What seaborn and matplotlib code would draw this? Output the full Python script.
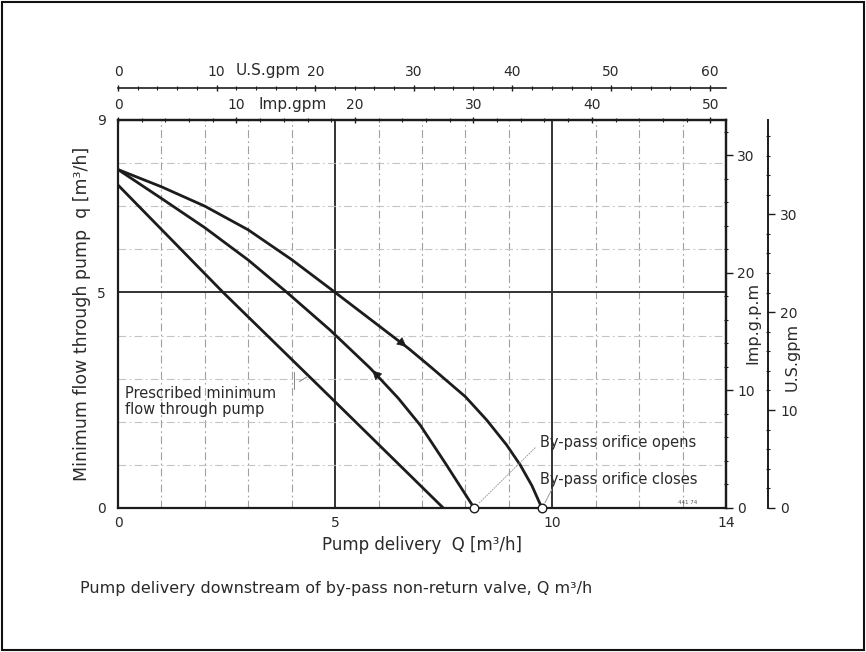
import numpy as np
import pandas as pd
import matplotlib
matplotlib.use("Agg")
import matplotlib.pyplot as plt
from matplotlib.ticker import MultipleLocator
import seaborn as sns

# ---------------- data ----------------
# upper curve (Q increasing, by-pass closes at ~9.76 m3/h)
q_upper_Q = [0, 1, 2, 3, 4, 5, 5.65, 6.69, 7.19, 8.0, 8.49, 8.95, 9.26, 9.53, 9.76]
q_upper_q = [7.85, 7.45, 7.0, 6.45, 5.76, 5.0, 4.5, 3.70, 3.28, 2.58, 2.04, 1.46, 1.0, 0.52, 0.0]
# middle curve (Q decreasing, by-pass opens at ~8.2 m3/h)
q_mid_Q = [0, 1, 2, 3, 3.89, 4.88, 5.81, 6.45, 6.96, 7.53, 8.2]
q_mid_q = [7.85, 7.18, 6.5, 5.75, 5.0, 4.13, 3.24, 2.55, 1.92, 1.05, 0.0]
# prescribed minimum flow through pump (straight line)
q_min_Q = [0, 2.42, 4.88, 7.49]
q_min_q = [7.49, 5.0, 2.58, 0.0]
# by-pass orifice points on the Q axis
orifice_Q = [8.2, 9.76]
orifice_q = [0.0, 0.0]

x_ticks = [0, 5, 10, 14]
y_ticks = [0, 5, 9]
grid_Q = list(range(1, 14))
grid_q = list(range(1, 9))
solid_Q = [5, 10]
solid_q = [5]
imp_ticks_top = [0, 10, 20, 30, 40, 50]
us_ticks_top = [0, 10, 20, 30, 40, 50, 60]
imp_ticks_right = [0, 10, 20, 30]
us_ticks_right = [0, 10, 20, 30]

M3H_PER_IMPGPM = 0.2728
M3H_PER_USGPM = 0.2271

# ---------------- style ----------------
sns.set_style("white")
plt.rcParams["font.family"] = ["DejaVu Sans"]
INK = "#1c1c1c"
TXT = "#2a2a2a"

fig = plt.figure(figsize=(8.66, 6.52), dpi=100)
fig.patch.set_facecolor("white")
ax = fig.add_axes([0.1363, 0.2209, 0.702, 0.5951])

df = pd.concat([
    pd.DataFrame({"Q": q_upper_Q, "q": q_upper_q, "curve": "upper"}),
    pd.DataFrame({"Q": q_mid_Q, "q": q_mid_q, "curve": "middle"}),
    pd.DataFrame({"Q": q_min_Q, "q": q_min_q, "curve": "minimum"}),
])

# grid
for g in grid_Q:
    if g in solid_Q:
        ax.axvline(g, color="#333333", lw=1.4, zorder=1)
    else:
        ax.axvline(g, color="#a0a0a0", lw=0.8, ls=(0, (7, 3, 1.5, 3)), zorder=1)
for g in grid_q:
    if g in solid_q:
        ax.axhline(g, color="#333333", lw=1.4, zorder=1)
    else:
        ax.axhline(g, color="#c4c4c4", lw=0.8, ls=(0, (7, 3, 1.5, 3)), zorder=1)

sns.lineplot(data=df, x="Q", y="q", units="curve", estimator=None, sort=False,
             color=INK, lw=2.0, ax=ax, zorder=3)

sns.scatterplot(x=orifice_Q, y=orifice_q, ax=ax, marker="o", s=38,
                facecolor="white", edgecolor=INK, linewidth=1.0, zorder=5,
                clip_on=False)

# arrows on the curves
ax.annotate("", xy=(6.69, 3.70), xytext=(6.40, 3.94),
            arrowprops=dict(arrowstyle="-|>", color=INK, lw=0.5, mutation_scale=15), zorder=4)
ax.annotate("", xy=(5.81, 3.24), xytext=(6.11, 2.93),
            arrowprops=dict(arrowstyle="-|>", color=INK, lw=0.5, mutation_scale=15), zorder=4)

ax.set_xlim(0, 14)
ax.set_ylim(0, 9)

# annotations
ax.text(0.16, 2.47, "Prescribed minimum\nflow through pump", fontsize=10.5,
        color=TXT, ha="left", va="center", linespacing=1.05)
ax.annotate("", xy=(4.42, 3.08), xytext=(4.12, 2.9),
            arrowprops=dict(arrowstyle="-", color="#888888", lw=0.7))
ax.plot([4.05, 4.05], [2.75, 3.15], color="#888888", lw=0.7)

ax.text(9.72, 1.51, "By-pass orifice opens", fontsize=10.5, color=TXT,
        ha="left", va="center")
ax.text(9.72, 0.65, "By-pass orifice closes", fontsize=10.5, color=TXT,
        ha="left", va="center")
ax.annotate("", xy=(8.25, 0.05), xytext=(9.65, 1.44),
            arrowprops=dict(arrowstyle="-", color="#999999", lw=0.7, ls=":"))
ax.annotate("", xy=(9.8, 0.06), xytext=(10.02, 0.49),
            arrowprops=dict(arrowstyle="-", color="#999999", lw=0.7))
ax.text(12.9, 0.12, "441 74", fontsize=4, color="#555555", ha="left", va="center")

# main axes
for s in ax.spines.values():
    s.set_color(INK)
    s.set_linewidth(1.6)
ax.set_xticks(x_ticks)
ax.set_yticks(y_ticks)
ax.xaxis.set_minor_locator(MultipleLocator(1))
ax.tick_params(axis="x", which="major", direction="in", length=4, width=1,
               labelsize=10, pad=6, colors=INK, labelcolor=TXT)
ax.tick_params(axis="x", which="minor", direction="in", length=3, width=0.8, colors=INK)
ax.tick_params(axis="y", which="major", direction="in", length=3, width=1,
               labelsize=10, pad=9, colors=INK, labelcolor=TXT)
ax.set_xlabel("Pump delivery  Q [m³/h]", fontsize=12, color=TXT, labelpad=4)
ax.set_ylabel("Minimum flow through pump  q [m³/h]", fontsize=12.5, color=TXT, labelpad=4)

# top secondary axes
top_imp = ax.secondary_xaxis("top", functions=(lambda x: x / M3H_PER_IMPGPM,
                                               lambda x: x * M3H_PER_IMPGPM))
top_imp.set_xticks(imp_ticks_top)
top_imp.xaxis.set_minor_locator(MultipleLocator(2))
top_imp.tick_params(which="major", direction="inout", length=5, width=1,
                    labelsize=10, pad=3, colors=INK, labelcolor=TXT)
top_imp.tick_params(which="minor", direction="inout", length=3, width=0.8, colors=INK)
top_imp.spines["top"].set_linewidth(1.6)
top_imp.spines["top"].set_color(INK)

top_us = ax.secondary_xaxis(1.0825, functions=(lambda x: x / M3H_PER_USGPM,
                                               lambda x: x * M3H_PER_USGPM))
top_us.set_xticks(us_ticks_top)
top_us.xaxis.set_minor_locator(MultipleLocator(2))
top_us.tick_params(which="major", direction="inout", length=5, width=1,
                   labelsize=10, pad=4, colors=INK, labelcolor=TXT)
top_us.tick_params(which="minor", direction="inout", length=3, width=0.8, colors=INK)
top_us.spines["top"].set_linewidth(1.2)
top_us.spines["top"].set_color(INK)

# right secondary axes
r_imp = ax.secondary_yaxis("right", functions=(lambda x: x / M3H_PER_IMPGPM,
                                               lambda x: x * M3H_PER_IMPGPM))
r_imp.set_yticks(imp_ticks_right)
r_imp.yaxis.set_minor_locator(MultipleLocator(2))
r_imp.tick_params(which="major", direction="out", length=5, width=1,
                  labelsize=10, pad=3, colors=INK, labelcolor=TXT)
r_imp.tick_params(which="minor", direction="inout", length=3, width=0.8, colors=INK)
r_imp.spines["right"].set_linewidth(1.6)
r_imp.spines["right"].set_color(INK)

r_us = ax.secondary_yaxis(1.069, functions=(lambda x: x / M3H_PER_USGPM,
                                            lambda x: x * M3H_PER_USGPM))
r_us.set_yticks(us_ticks_right)
r_us.yaxis.set_minor_locator(MultipleLocator(2))
r_us.tick_params(which="major", direction="out", length=5, width=1,
                 labelsize=10, pad=4, colors=INK, labelcolor=TXT)
r_us.tick_params(which="minor", direction="inout", length=3, width=0.8, colors=INK)
r_us.spines["right"].set_linewidth(1.4)
r_us.spines["right"].set_color(INK)

# axis unit labels placed along the scales
fig.text(293 / 866, 1 - 104 / 652, "Imp.gpm", fontsize=11, color=TXT, ha="center", va="center")
fig.text(268 / 866, 1 - 70 / 652, "U.S.gpm", fontsize=11, color=TXT, ha="center", va="center")
fig.text(753 / 866, 1 - 323 / 652, "Imp.g.p.m", fontsize=11.5, color=TXT, ha="center",
         va="center", rotation=90)
fig.text(792 / 866, 1 - 357 / 652, "U.S.gpm", fontsize=11.5, color=TXT, ha="center",
         va="center", rotation=90)

# caption
fig.text(80 / 866, 1 - 588 / 652,
         "Pump delivery downstream of by-pass non-return valve, Q m³/h",
         fontsize=11.5, color=TXT, ha="left", va="center")

# outer frame
fig.patches.append(plt.Rectangle((0.002, 0.003), 0.996, 0.994, transform=fig.transFigure,
                                 fill=False, edgecolor="#111111", linewidth=1.5))

fig.savefig("out.png", dpi=100)
